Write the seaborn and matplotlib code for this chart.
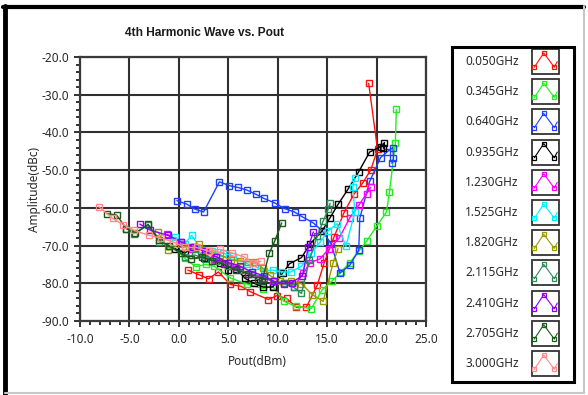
import numpy as np
import pandas as pd
import matplotlib
matplotlib.use("Agg")
import matplotlib.pyplot as plt
import seaborn as sns
from matplotlib.legend_handler import HandlerBase
from matplotlib.lines import Line2D
from matplotlib.patches import Rectangle
from matplotlib.ticker import MultipleLocator, FormatStrFormatter

# ---------------- data ----------------
freqs = ["0.050GHz", "0.345GHz", "0.640GHz", "0.935GHz", "1.230GHz", "1.525GHz",
         "1.820GHz", "2.115GHz", "2.410GHz", "2.705GHz", "3.000GHz"]
colors = ["#ff1010", "#22ee22", "#2040ff", "#000000", "#ff00ff", "#00f0ff",
          "#9a9a00", "#2e8b57", "#8a00ff", "#1a5a1a", "#ff8a8a"]

x_050 = [0.9, 2.0, 3.0, 4.0, 5.2, 6.3, 7.2, 9.05, 9.9, 10.9, 11.9, 12.9, 14.0, 14.7, 15.7, 16.7, 17.7, 18.6, 19.4, 20.1, 19.2]
y_050 = [-76.5, -77.7, -78.8, -77.0, -80.3, -80.8, -82.2, -84.3, -83.3, -84.0, -86.4, -86.3, -80.5, -74.6, -67.7, -61.3, -56.4, -53.4, -50.0, -44.5, -27.0]

x_345 = [0.6, 1.7, 2.7, 3.6, 5.2, 6.9, 8.5, 9.5, 10.6, 11.8, 13.4, 14.5, 15.5, 16.4, 17.3, 18.2, 19.0, 20.0, 21.0, 21.3, 21.9, 22.0]
y_345 = [-73.4, -75.6, -75.0, -75.5, -78.6, -80.2, -81.4, -80.8, -84.7, -86.1, -86.7, -81.7, -79.4, -77.0, -74.5, -71.5, -68.8, -64.9, -61.1, -55.8, -42.9, -33.9]

x_640 = [-0.2, 0.8, 1.6, 2.5, 4.1, 5.1, 6.0, 6.9, 7.8, 8.6, 9.7, 10.7, 11.7, 12.5, 13.6, 14.5, 15.4, 16.3, 17.3, 18.2, 18.3, 19.3, 20.4, 21.1, 21.65, 21.7, 21.55]
y_640 = [-58.1, -59.0, -60.3, -61.1, -53.1, -54.1, -54.6, -55.3, -56.4, -57.5, -58.7, -60.2, -61.1, -62.4, -64.0, -66.1, -69.5, -77.3, -75.2, -71.2, -62.8, -53.0, -46.7, -45.1, -44.0, -46.9, -48.2]

x_935 = [-0.4, 0.6, 1.5, 2.5, 4.2, 5.0, 5.8, 6.7, 7.6, 8.5, 9.5, 10.5, 11.2, 12.4, 13.3, 14.5, 15.3, 16.1, 17.1, 18.2, 19.3, 20.4, 20.8, 20.7]
y_935 = [-70.8, -72.0, -70.4, -73.2, -74.6, -76.4, -76.1, -78.7, -80.0, -81.0, -81.0, -77.3, -74.8, -73.2, -69.5, -66.1, -62.6, -59.1, -55.1, -50.4, -45.2, -43.8, -42.7, -44.2]

x_1230 = [-1.2, 0.2, 1.3, 2.5, 3.6, 4.6, 5.8, 7.0, 8.4, 9.5, 10.6, 11.6, 12.6, 13.3, 14.3, 15.2, 16.2, 17.3, 18.2, 19.0, 19.4]
y_1230 = [-67.0, -69.0, -71.0, -72.5, -73.5, -74.5, -75.8, -77.5, -78.5, -79.4, -80.0, -81.0, -77.3, -74.5, -73.5, -70.8, -68.1, -62.6, -59.3, -56.2, -54.6]

x_1525 = [-0.4, 0.6, 1.3, 2.3, 3.4, 4.5, 5.5, 6.9, 7.7, 8.6, 9.5, 10.4, 11.3, 12.4, 13.4, 14.3, 15.1, 16.0, 16.9, 17.8, 17.6, 17.8]
y_1525 = [-67.7, -69.5, -67.3, -71.2, -71.5, -72.0, -72.8, -74.8, -75.5, -76.7, -76.5, -77.0, -77.0, -75.5, -72.0, -69.0, -66.1, -64.2, -70.2, -61.1, -54.4, -52.2]

x_1820 = [-2.1, -1.1, 0.2, 1.0, 2.0, 3.0, 4.2, 5.3, 6.2, 7.0, 7.7, 8.5, 9.2, 10.2, 11.3, 12.4, 13.5, 14.6, 15.6, 16.1]
y_1820 = [-66.4, -71.2, -69.5, -70.5, -69.7, -71.5, -72.5, -73.9, -74.1, -74.3, -74.3, -76.0, -77.9, -79.5, -79.5, -80.1, -83.0, -84.8, -74.6, -70.8]

x_2115 = [-5.3, -4.5, -3.1, -2.0, -1.0, 0.6, 1.6, 2.6, 3.8, 5.0, 6.2, 7.4, 8.6, 9.6, 10.6, 11.6, 12.4, 13.2, 14.0, 14.6, 15.1, 15.3]
y_2115 = [-65.5, -66.8, -64.6, -69.0, -70.0, -73.0, -72.5, -73.5, -74.0, -75.5, -76.5, -77.5, -78.5, -79.5, -80.0, -81.0, -82.7, -73.9, -67.5, -63.5, -60.4, -58.8]

x_2410 = [-3.95, -2.9, -1.1, 0.2, 1.4, 2.6, 3.8, 5.0, 6.2, 7.4, 8.6, 9.6, 10.6, 11.4, 12.5, 13.1, 13.6]
y_2410 = [-64.3, -65.9, -67.3, -69.0, -70.5, -71.5, -73.0, -74.5, -75.5, -77.0, -78.0, -79.5, -80.1, -79.8, -78.0, -70.4, -66.4]

x_2705 = [-7.3, -6.3, -5.3, -4.4, -3.1, -2.0, -1.0, 0.2, 1.2, 2.3, 3.4, 4.6, 5.8, 7.0, 8.0, 8.4, 9.15, 9.7, 10.4]
y_2705 = [-61.5, -61.9, -65.5, -66.7, -64.4, -68.5, -70.0, -72.0, -73.5, -73.0, -74.0, -75.0, -76.5, -77.5, -79.0, -79.5, -72.0, -68.8, -64.0]

x_3000 = [-8.1, -6.7, -5.6, -4.5, -3.0, -1.8, -0.6, 0.6, 1.8, 3.0, 4.2, 5.4, 6.6, 7.5, 8.3]
y_3000 = [-59.7, -62.8, -64.5, -66.0, -67.3, -68.0, -69.0, -70.5, -70.5, -71.5, -71.0, -72.0, -73.0, -74.5, -74.2]

series_x = [x_050, x_345, x_640, x_935, x_1230, x_1525, x_1820, x_2115, x_2410, x_2705, x_3000]
series_y = [y_050, y_345, y_640, y_935, y_1230, y_1525, y_1820, y_2115, y_2410, y_2705, y_3000]

x_ticks = [-10, -5, 0, 5, 10, 15, 20, 25]
y_ticks = [-90, -80, -70, -60, -50, -40, -30, -20]

frames = []
for f, xs, ys in zip(freqs, series_x, series_y):
    frames.append(pd.DataFrame({"Pout": xs, "Amp": ys, "freq": f, "order": range(len(xs))}))
df = pd.concat(frames, ignore_index=True)

# ---------------- style ----------------
sns.set_theme(style="white")
plt.rcParams["font.family"] = ["Noto Sans", "DejaVu Sans"]
plt.rcParams["axes.unicode_minus"] = False
txt_color = "#2a2a2a"

W, H = 588, 395
fig = plt.figure(figsize=(W / 100, H / 100), dpi=100)
fig.patch.set_facecolor("white")
ax = fig.add_axes([80 / W, 1 - 321 / H, (426 - 80) / W, (321 - 57) / H])

for f, c in zip(freqs, colors):
    sub = df[df["freq"] == f]
    sns.lineplot(data=sub, x="Pout", y="Amp", sort=False, estimator=None, ax=ax,
                 color=c, lw=1.0, marker="s", markersize=4.4, markerfacecolor="none",
                 markeredgecolor=c, markeredgewidth=1.0, legend=False, zorder=3)

ax.set_xlim(-10, 25)
ax.set_ylim(-90, -20)
ax.set_xticks(x_ticks)
ax.set_yticks(y_ticks)
ax.xaxis.set_minor_locator(MultipleLocator(1))
ax.yaxis.set_minor_locator(MultipleLocator(2))
ax.xaxis.set_major_formatter(FormatStrFormatter("%.1f"))
ax.yaxis.set_major_formatter(FormatStrFormatter("%.1f"))
ax.grid(True, which="major", color="#303030", lw=1.5, zorder=1)
ax.set_axisbelow(True)
for s in ax.spines.values():
    s.set_color("#3a3a3a")
    s.set_linewidth(1.6)
ax.tick_params(which="major", direction="out", length=4.5, width=1.3, color="#222222",
               labelsize=8.5, labelcolor=txt_color, pad=3, bottom=True, left=True)
ax.tick_params(axis="x", which="major", pad=4)
ax.tick_params(which="minor", direction="out", length=2.6, width=1.3, color="#222222",
               bottom=True, left=True)

ax.set_xlabel("Pout(dBm)", fontsize=8.5, color=txt_color)
ax.set_ylabel("Amplitude(dBc)", fontsize=8.5, color=txt_color)
ax.xaxis.set_label_coords((257 - 80) / 346, (321 - 355) / 264)
ax.yaxis.set_label_coords((41 - 80) / 346, 0.5)

fig.text(205 / W, 1 - 33 / H, "4th Harmonic Wave vs. Pout", ha="center", va="center",
         fontsize=8.6, fontweight="bold", color="#1a1a1a", family=["Liberation Sans", "DejaVu Sans"])


# ---------------- legend ----------------
class IconHandler(HandlerBase):
    def create_artists(self, legend, orig_handle, xdescent, ydescent, width, height,
                       fontsize, trans):
        c = orig_handle.get_color()
        x0, y0 = -xdescent, -ydescent
        rect = Rectangle((x0, y0), width, height, facecolor="white", edgecolor="#333333",
                         lw=1.3, transform=trans)
        xs = [x0 + 0.1 * width, x0 + 0.45 * width, x0 + 0.84 * width, x0 + 0.95 * width]
        ys = [y0 + 0.27 * height, y0 + 0.84 * height, y0 + 0.27 * height, y0 + 0.5 * height]
        ln = Line2D(xs, ys, color=c, lw=0.8, transform=trans)
        mk = Line2D(xs[:3], ys[:3], ls="none", marker="s", ms=3.3, mfc="none", mec=c,
                    mew=0.9, transform=trans)
        return [rect, ln, mk]


handles = [Line2D([], [], color=c) for c in colors]
fs_px = 8.5 * 100 / 72
icon_h = 25.0
hh = (icon_h / fs_px - 0.245) / 0.65
leg = ax.legend(handles, freqs, handler_map={Line2D: IconHandler()}, markerfirst=False,
                frameon=False, loc="upper left", bbox_to_anchor=(465 / W, 1 - 49 / H),
                bbox_transform=fig.transFigure, borderpad=0, borderaxespad=0,
                handlelength=27 / fs_px, handleheight=hh,
                handletextpad=13 / fs_px, labelspacing=5.2 / fs_px, fontsize=8.5)
for t in leg.get_texts():
    t.set_color(txt_color)

fig.add_artist(Rectangle((452 / W, 1 - 382 / H), (574 - 452) / W, (382 - 47) / H,
                         transform=fig.transFigure, fill=False, ec="black", lw=2.2))

# outer border of the panel
fig.add_artist(Line2D([3 / W, 584 / W], [1 - 7 / H, 1 - 7 / H], transform=fig.transFigure,
                      color="black", lw=3))
fig.add_artist(Line2D([5 / W, 5 / W], [1 - 6 / H, 1 - 394 / H], transform=fig.transFigure,
                      color="black", lw=3.5))
fig.add_artist(Line2D([584 / W, 584 / W], [1 - 6 / H, 1 - 393 / H], transform=fig.transFigure,
                      color="#c8c8c8", lw=1.5))
fig.add_artist(Line2D([5 / W, 584 / W], [1 - 393 / H, 1 - 393 / H], transform=fig.transFigure,
                      color="#c8c8c8", lw=1.5))

fig.savefig("out.png", dpi=100)
